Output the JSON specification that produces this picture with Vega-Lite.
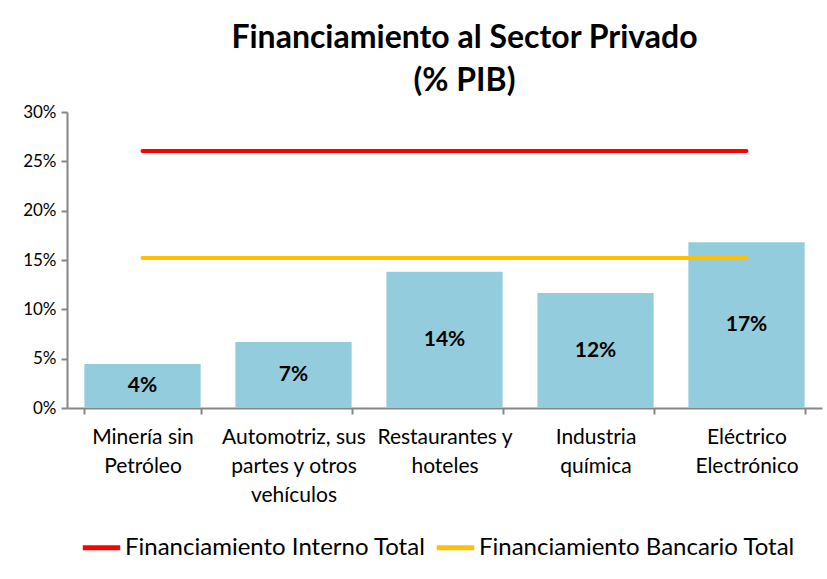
{
  "$schema": "https://vega.github.io/schema/vega-lite/v6.json",
  "width": 755,
  "height": 296,
  "autosize": {"type": "none"},
  "padding": {"left": 67, "top": 112, "right": 5, "bottom": 171},
  "background": "white",
  "config": {"font": "Lato", "view": {"stroke": null}},
  "title": {
    "text": ["Financiamiento al Sector Privado", "(% PIB)"],
    "fontSize": 32,
    "fontWeight": "bold",
    "color": "#000000",
    "anchor": "middle",
    "dx": 20,
    "offset": 5,
    "lineHeight": 43
  },
  "datasets": {
    "bars": [
      {"sector": "Minería sin Petróleo", "valor": 0.0446},
      {"sector": "Automotriz, sus partes y otros vehículos", "valor": 0.0669},
      {"sector": "Restaurantes y hoteles", "valor": 0.138},
      {"sector": "Industria química", "valor": 0.1165},
      {"sector": "Eléctrico Electrónico", "valor": 0.168}
    ],
    "lines": [
      {"sector": "Minería sin Petróleo", "serie": "Financiamiento Interno Total", "valor": 0.2605},
      {"sector": "Eléctrico Electrónico", "serie": "Financiamiento Interno Total", "valor": 0.2605},
      {"sector": "Minería sin Petróleo", "serie": "Financiamiento Bancario Total", "valor": 0.152},
      {"sector": "Eléctrico Electrónico", "serie": "Financiamiento Bancario Total", "valor": 0.152}
    ]
  },
  "encoding": {
    "x": {
      "field": "sector",
      "type": "nominal",
      "sort": ["Minería sin Petróleo", "Automotriz, sus partes y otros vehículos", "Restaurantes y hoteles", "Industria química", "Eléctrico Electrónico"],
      "scale": {"paddingInner": 0.23, "paddingOuter": 0.115},
      "axis": {
        "title": null,
        "labelAngle": 0,
        "domainColor": "#868686",
        "domainWidth": 2,
        "tickColor": "#868686",
        "tickWidth": 2,
        "tickSize": 6,
        "tickBand": "extent",
        "labelFontSize": 21,
        "labelColor": "#000000",
        "labelPadding": 12,
        "labelLineHeight": 29,
        "labelBaseline": "top",
        "labelLimit": 200,
        "labelExpr": "datum.value == 'Minería sin Petróleo' ? ['Minería sin', 'Petróleo'] : datum.value == 'Automotriz, sus partes y otros vehículos' ? ['Automotriz, sus', 'partes y otros', 'vehículos'] : datum.value == 'Restaurantes y hoteles' ? ['Restaurantes y', 'hoteles'] : datum.value == 'Industria química' ? ['Industria', 'química'] : datum.value == 'Eléctrico Electrónico' ? ['Eléctrico', 'Electrónico'] : ''"
      }
    }
  },
  "layer": [
    {
      "data": {"name": "bars"},
      "mark": {"type": "bar", "color": "#93CDDD"},
      "encoding": {
        "y": {
          "field": "valor",
          "type": "quantitative",
          "scale": {"domain": [0, 0.3], "nice": false},
          "axis": {
            "title": null,
            "values": [0, 0.05, 0.1, 0.15, 0.2, 0.25, 0.3],
            "format": "0%",
            "grid": false,
            "domainColor": "#868686",
            "domainWidth": 2,
            "tickColor": "#868686",
            "tickWidth": 2,
            "tickSize": 6,
            "labelFontSize": 17,
            "labelColor": "#000000",
            "labelPadding": 5
          }
        }
      }
    },
    {
      "data": {"name": "bars"},
      "transform": [{"calculate": "datum.valor / 2", "as": "medio"}],
      "mark": {"type": "text", "fontSize": 21, "fontWeight": "bold", "color": "#000000", "baseline": "middle"},
      "encoding": {
        "y": {"field": "medio", "type": "quantitative"},
        "text": {"field": "valor", "type": "quantitative", "format": ".0%"}
      }
    },
    {
      "data": {"name": "lines"},
      "mark": {"type": "line", "strokeWidth": 4, "strokeCap": "round"},
      "encoding": {
        "y": {"field": "valor", "type": "quantitative"},
        "color": {
          "field": "serie",
          "type": "nominal",
          "scale": {"domain": ["Financiamiento Interno Total", "Financiamiento Bancario Total"], "range": ["#FF0000", "#FFC000"]},
          "legend": {
            "title": null,
            "orient": "none",
            "legendX": 13,
            "legendY": 414,
            "direction": "horizontal",
            "symbolType": "stroke",
            "symbolSize": 1400,
            "symbolStrokeWidth": 5,
            "labelFontSize": 24,
            "labelColor": "#000000",
            "labelOffset": 2,
            "columnPadding": 0,
            "labelLimit": 500
          }
        }
      }
    }
  ]
}
